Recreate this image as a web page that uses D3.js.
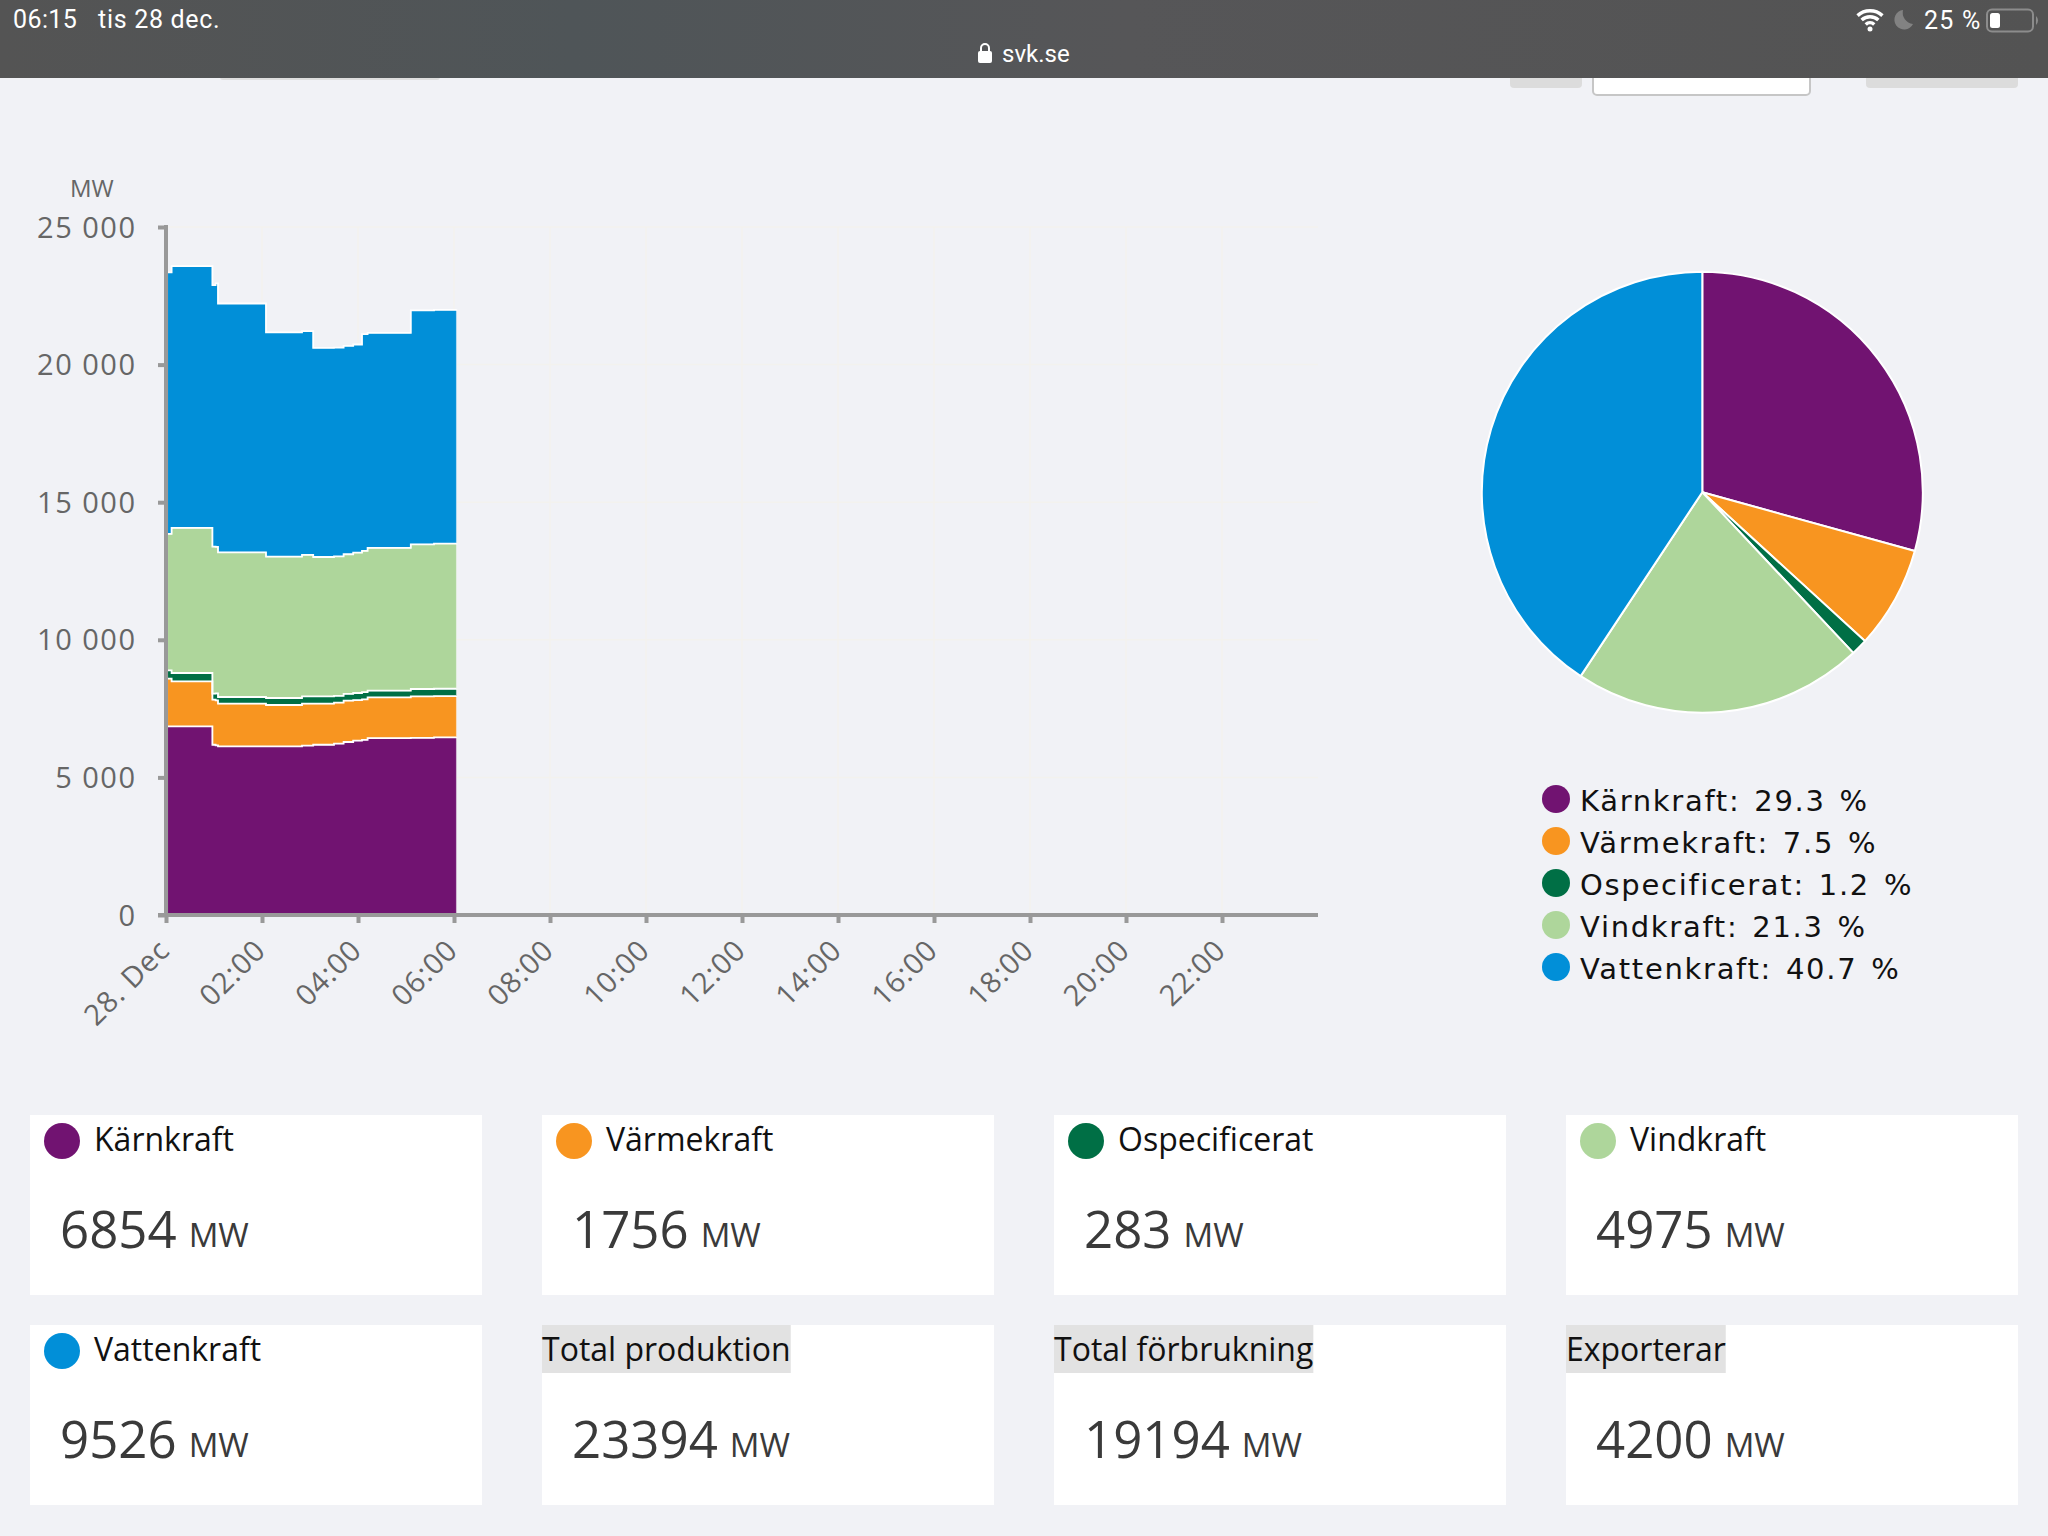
<!DOCTYPE html>
<html>
<head>
<meta charset="utf-8">
<script src="https://cdn.jsdelivr.net/npm/d3@7"></script>
<style>
  html, body { margin: 0; padding: 0; background: #f1f2f6; }
  svg { display: block; }
  .axis text { font-family: "Open Sans"; fill: #666; }
</style>
</head>
<body>
<div id="chart"></div>
<script>
const names = ['Kärnkraft', 'Värmekraft', 'Ospecificerat', 'Vindkraft', 'Vattenkraft'];
const colors = ['#711371', '#f89520', '#006f45', '#aed69b', '#018fd8'];

// minutes after midnight, each value holds until the next one
const minutes = [2, 7, 58, 62, 65, 125, 170, 184, 210, 222, 234, 245, 252, 306, 335, 363];
const karnkraft = [6852, 6852, 6186, 6162, 6126, 6124, 6156, 6186, 6226, 6286, 6336, 6366, 6429, 6436, 6456, 6466];
const varmekraft = [1736, 1639, 1637, 1634, 1552, 1506, 1522, 1492, 1490, 1501, 1475, 1470, 1479, 1508, 1495, 1495];
const ospecificerat = [303, 303, 219, 260, 244, 256, 266, 266, 250, 249, 256, 260, 243, 269, 270, 265];
const vindkraft = [4955, 5271, 5342, 5322, 5258, 5135, 5139, 5065, 5062, 5072, 5101, 5132, 5186, 5258, 5277, 5282];
const vattenkraft = [9504, 9515, 9506, 9572, 9040, 8149, 8133, 7599, 7592, 7572, 7562, 7877, 7813, 8499, 8487, 8492];

const yTicks = [0, 5000, 10000, 15000, 20000, 25000];
const xTickMinutes = [0, 120, 240, 360, 480, 600, 720, 840, 960, 1080, 1200, 1320];
const xTickLabels = ['28. Dec', '02:00', '04:00', '06:00', '08:00', '10:00', '12:00', '14:00', '16:00', '18:00', '20:00', '22:00'];

const piePercent = [29.3, 7.5, 1.2, 21.3, 40.7];

const cardTitles = ['Kärnkraft', 'Värmekraft', 'Ospecificerat', 'Vindkraft', 'Vattenkraft', 'Total produktion', 'Total förbrukning', 'Exporterar'];
const cardValues = [6854, 1756, 283, 4975, 9526, 23394, 19194, 4200];

const svg = d3.select('#chart').append('svg')
  .attr('width', 2048)
  .attr('height', 1536);

const defs = svg.append('defs');
const barGrad = defs.append('linearGradient').attr('id', 'bar-grad');
barGrad.append('stop').attr('offset', '0%').attr('stop-color', '#545454');
barGrad.append('stop').attr('offset', '28%').attr('stop-color', '#4f5558');
barGrad.append('stop').attr('offset', '55%').attr('stop-color', '#565658');
barGrad.append('stop').attr('offset', '100%').attr('stop-color', '#535353');

/* page bits hiding behind the browser bar */
const hidden = svg.append('g');
hidden.append('rect').attr('x', 220).attr('y', 70).attr('width', 220).attr('height', 10).attr('rx', 3).attr('fill', '#dedede');
hidden.append('rect').attr('x', 1510).attr('y', 70).attr('width', 72).attr('height', 18).attr('rx', 4).attr('fill', '#dcdcdc');
hidden.append('rect').attr('x', 1593).attr('y', 70).attr('width', 217).attr('height', 25).attr('rx', 4)
  .attr('fill', '#fff').attr('stroke', '#c6c6c6').attr('stroke-width', 2);
hidden.append('rect').attr('x', 1866).attr('y', 70).attr('width', 152).attr('height', 18).attr('rx', 4).attr('fill', '#dcdcdc');

/* status bar */
const bar = svg.append('g').attr('font-family', 'Roboto').attr('fill', '#fff');
bar.append('rect').attr('width', 2048).attr('height', 78).attr('fill', 'url(#bar-grad)');
bar.append('text').attr('x', 13).attr('y', 28).attr('font-size', 25).attr('letter-spacing', 0.4).text('06:15');
bar.append('text').attr('x', 98).attr('y', 28).attr('font-size', 25).attr('letter-spacing', 0.7).text('tis 28 dec.');
bar.append('text').attr('x', 1002).attr('y', 62).attr('font-size', 24).text('svk.se');
bar.append('text').attr('x', 1924).attr('y', 29).attr('font-size', 25).attr('letter-spacing', 1.2).text('25 %');

// lock
bar.append('rect').attr('x', 978).attr('y', 51).attr('width', 14).attr('height', 12).attr('rx', 2);
bar.append('path').attr('d', 'M981 51v-3a4 4 0 0 1 8 0v3').attr('fill', 'none').attr('stroke', '#fff').attr('stroke-width', 2);

// wifi
const wifi = bar.append('g').attr('transform', 'translate(1870,30)');
[7, 13, 19].forEach(r => {
  wifi.append('path')
    .attr('d', d3.arc()({ innerRadius: r - 2.5, outerRadius: r + 1, startAngle: -0.75, endAngle: 0.75 }))
    .attr('transform', 'translate(0,-1)');
});
wifi.append('circle').attr('cy', -1).attr('r', 2.5);

// moon
bar.append('path')
  .attr('d', 'M1903 10A9.8 9.8 0 1 0 1913 24A11.5 11.5 0 0 1 1903 10z')
  .attr('fill', '#828282');

// battery
bar.append('rect').attr('x', 1987).attr('y', 9.5).attr('width', 46).attr('height', 22).attr('rx', 5)
  .attr('fill', 'none').attr('stroke', '#8c8c8c').attr('stroke-width', 2);
bar.append('rect').attr('x', 1990).attr('y', 13).attr('width', 10).attr('height', 15).attr('rx', 2.5);
bar.append('path').attr('d', 'M2036 16a6 6 0 0 1 0 9z').attr('fill', '#8c8c8c');

/* area chart */
const x = d3.scaleLinear().domain([0, 1440]).range([166, 1318]);
const y = d3.scaleLinear().domain([0, 25000]).range([915, 227]);

const rows = minutes.map((m, i) => ({
  minute: m,
  [names[0]]: karnkraft[i],
  [names[1]]: varmekraft[i],
  [names[2]]: ospecificerat[i],
  [names[3]]: vindkraft[i],
  [names[4]]: vattenkraft[i],
}));
const stacked = d3.stack().keys(names)(rows);

// faint grid
const grid = svg.append('g').attr('stroke', '#f3f2ee').attr('stroke-width', 1.5);
grid.selectAll('.gx').data(xTickMinutes).enter().append('line')
  .attr('x1', d => x(d)).attr('x2', d => x(d)).attr('y1', 227).attr('y2', 915);
grid.selectAll('.gy').data(yTicks).enter().append('line')
  .attr('x1', 166).attr('x2', 1318).attr('y1', d => y(d)).attr('y2', d => y(d));

const area = d3.area()
  .curve(d3.curveStepAfter)
  .x(d => x(d.data.minute))
  .y0(d => y(d[0]))
  .y1(d => y(d[1]));
const topLine = d3.line()
  .curve(d3.curveStepAfter)
  .x(d => x(d.data.minute))
  .y(d => y(d[1]));

const layers = svg.append('g');
layers.selectAll('path.area').data(stacked).enter().append('path')
  .attr('class', 'area')
  .attr('d', area)
  .attr('fill', (d, i) => colors[i])
  .attr('stroke', 'rgba(255,255,255,0.35)')
  .attr('stroke-width', 1);
layers.selectAll('path.top').data(stacked).enter().append('path')
  .attr('class', 'top')
  .attr('d', topLine)
  .attr('fill', 'none')
  .attr('stroke', '#fff')
  .attr('stroke-width', 1.8);

// axes
const yAxis = svg.append('g').attr('class', 'axis')
  .attr('transform', 'translate(166,0)')
  .call(d3.axisLeft(y).tickValues(yTicks).tickSize(8).tickPadding(21.5)
    .tickFormat(d => d3.format(',')(d).replace(',', ' ')));
yAxis.selectAll('text').attr('font-size', 29).attr('letter-spacing', 1.5).attr('dy', 10);

const xAxis = svg.append('g').attr('class', 'axis')
  .attr('transform', 'translate(0,915)')
  .call(d3.axisBottom(x).tickValues(xTickMinutes).tickSize(8)
    .tickFormat((d, i) => xTickLabels[i]));
xAxis.selectAll('text')
  .attr('font-size', 29)
  .attr('letter-spacing', 1)
  .attr('text-anchor', 'end')
  .attr('transform', 'translate(5,37) rotate(-45)')
  .attr('y', 0).attr('dy', 0);
svg.selectAll('.axis line').attr('stroke', '#999').attr('stroke-width', 4);
yAxis.select('path.domain').remove();
xAxis.select('path.domain').remove();
svg.append('line').attr('x1', 166).attr('x2', 166).attr('y1', 225).attr('y2', 917).attr('stroke', '#999').attr('stroke-width', 4);
svg.append('line').attr('x1', 158).attr('x2', 1318).attr('y1', 915).attr('y2', 915).attr('stroke', '#999').attr('stroke-width', 4);

svg.append('text').attr('x', 70).attr('y', 197)
  .attr('font-family', 'Open Sans').attr('font-size', 24).attr('fill', '#666').text('MW');

/* pie */
const pie = d3.pie().sort(null)(piePercent);
const arc = d3.arc().innerRadius(0).outerRadius(220.5);
svg.append('g').attr('transform', 'translate(1702.3,492.2)')
  .selectAll('path').data(pie).enter().append('path')
  .attr('d', arc)
  .attr('fill', (d, i) => colors[i])
  .attr('stroke', '#fff')
  .attr('stroke-width', 2);

/* pie legend */
const legend = svg.append('g').selectAll('g').data(names).enter().append('g')
  .attr('transform', (d, i) => `translate(0,${i * 42})`);
legend.append('circle').attr('cx', 1556).attr('cy', 799).attr('r', 14).attr('fill', (d, i) => colors[i]);
legend.append('text').attr('x', 1580).attr('y', 811)
  .attr('font-family', 'DejaVu Sans').attr('font-size', 29).attr('letter-spacing', 1.7)
  .attr('word-spacing', 3).attr('fill', '#111')
  .text((d, i) => `${d}: ${piePercent[i]} %`);

/* value cards */
const cards = svg.append('g').selectAll('g').data(cardTitles).enter().append('g')
  .attr('transform', (d, i) => `translate(${30 + (i % 4) * 512},${1115 + Math.floor(i / 4) * 210})`)
  .attr('font-family', 'Open Sans');
cards.append('rect').attr('width', 452).attr('height', 180).attr('fill', '#fff');
const hasDot = (d, i) => i < names.length;
cards.filter(hasDot).append('circle').attr('cx', 32).attr('cy', 26).attr('r', 18)
  .attr('fill', (d, i) => colors[i]);
const titles = cards.append('text')
  .attr('x', (d, i) => hasDot(d, i) ? 64 : 0)
  .attr('y', 36)
  .attr('font-size', 32)
  .attr('fill', '#111')
  .text(d => d);
// grey marker behind the titles without a dot
titles.each(function(d, i) {
  if (hasDot(d, i)) return;
  d3.select(this.parentNode).insert('rect', 'text')
    .attr('width', this.getComputedTextLength())
    .attr('height', 48)
    .attr('fill', '#e2e2e2');
});
const values = cards.append('text')
  .attr('x', 30)
  .attr('y', 133)
  .attr('font-size', 51)
  .attr('fill', '#3a3a3a');
values.append('tspan').text((d, i) => cardValues[i]);
values.append('tspan').attr('font-size', 33).attr('dx', 12).attr('dy', -1).text('MW');
</script>
</body>
</html>
